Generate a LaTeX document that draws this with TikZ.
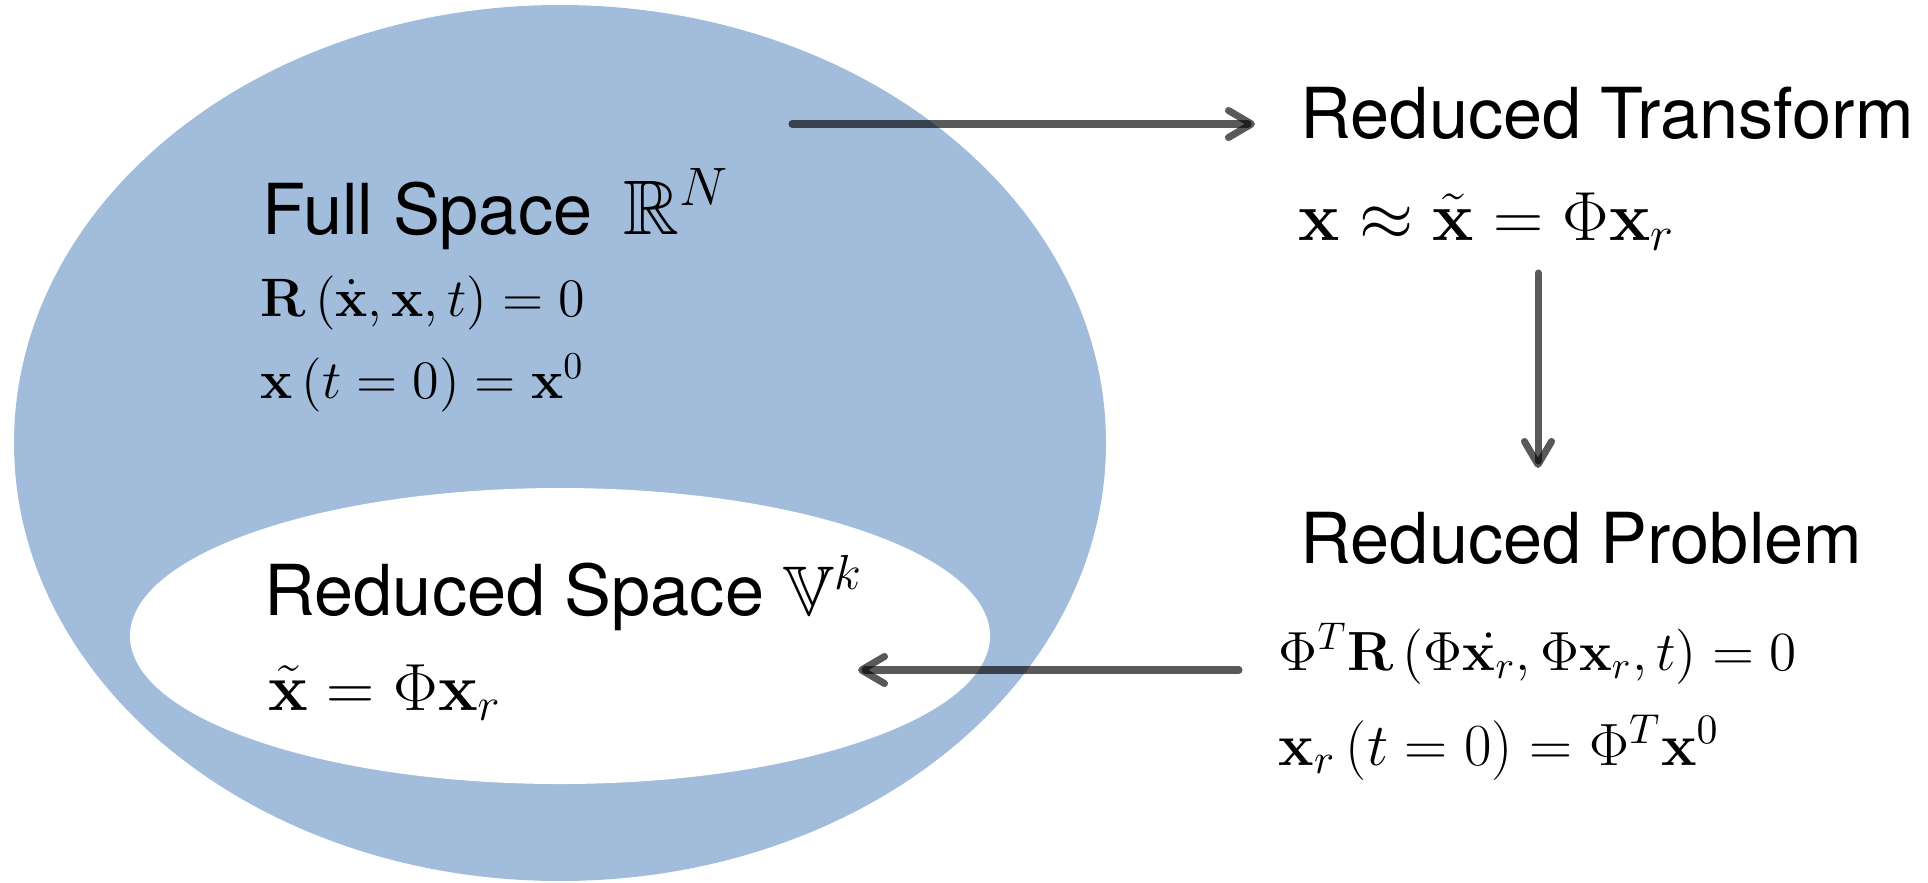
\RequirePackage{fix-cm}
\documentclass[tikz,border=0pt]{standalone}
\usepackage[no-math]{fontspec}
\setmainfont{TeX Gyre Heros}
\usepackage{amsmath,amssymb}
\usetikzlibrary{arrows.meta}
\definecolor{spaceblue}{HTML}{A2BCDB}

\begin{document}
\begin{tikzpicture}[x=1cm,y=1cm,line cap=round,line join=round,
  blob/.style={fill=spaceblue},
  hole/.style={fill=white},
  flow/.style={draw=black,draw opacity=.65,line width=2pt,
    -{Straight Barb[length=2.3mm,width=2.7mm,round]}},
  ttl/.style={anchor=base west,inner sep=0pt,font=\fontsize{20}{24}\selectfont},
  eq/.style={anchor=base west,inner sep=0pt,font=\fontsize{15.4}{19}\selectfont}]
  \path[use as bounding box] (0,0) rectangle (19.28,8.82);
  % the two spaces
  \fill[blob] (5.60,4.39) ellipse[x radius=5.46,y radius=4.38];
  \fill[hole] (5.60,2.46) ellipse[x radius=4.30,y radius=1.48];
  % full space
  \node[ttl] (full) at (2.62,6.48) {Full Space \,{\fontsize{22}{26}\selectfont$\mathbb{R}^N$}};
  \node[eq] (res) at (2.60,5.66) {$\mathbf{R}\left(\dot{\mathbf{x}},\mathbf{x},t\right)=0$};
  \node[eq] (ic) at (2.60,4.84) {$\mathbf{x}\left(t=0\right)=\mathbf{x}^0$};
  % reduced space
  \node[ttl] (red) at (2.64,2.67) {Reduced Space $\mathbb{V}^k$};
  \node[eq,font=\fontsize{19}{23}\selectfont] (redeq) at (2.68,1.72) {$\tilde{\mathbf{x}}=\Phi\mathbf{x}_r$};
  % reduced transform
  \node[ttl] (trf) at (13.00,7.44) {Reduced Transform};
  \node[eq,font=\fontsize{19.8}{24}\selectfont] (trfeq) at (12.98,6.42) {$\mathbf{x}\approx\tilde{\mathbf{x}}=\Phi\mathbf{x}_r$};
  % reduced problem
  \node[ttl] (prb) at (13.00,3.19) {Reduced Problem};
  \node[eq,font=\fontsize{15.7}{19}\selectfont] (prbeq) at (12.78,2.12) {$\Phi^T\mathbf{R}\left(\Phi\dot{\mathbf{x}_r},\Phi\mathbf{x}_r,t\right)=0$};
  \node[eq,font=\fontsize{17}{20}\selectfont] (prbic) at (12.78,1.17) {$\mathbf{x}_r\left(t=0\right)=\Phi^T\mathbf{x}^0$};
  % arrows
  \coordinate (a1) at (7.92,7.58);
  \coordinate (a2) at (12.55,7.58);
  \coordinate (b1) at (15.38,6.09);
  \coordinate (b2) at (15.38,4.14);
  \coordinate (c1) at (12.39,2.12);
  \coordinate (c2) at (8.58,2.12);
  \draw[flow] (a1)--(a2);
  \draw[flow] (b1)--(b2);
  \draw[flow] (c1)--(c2);
\end{tikzpicture}
\end{document}
